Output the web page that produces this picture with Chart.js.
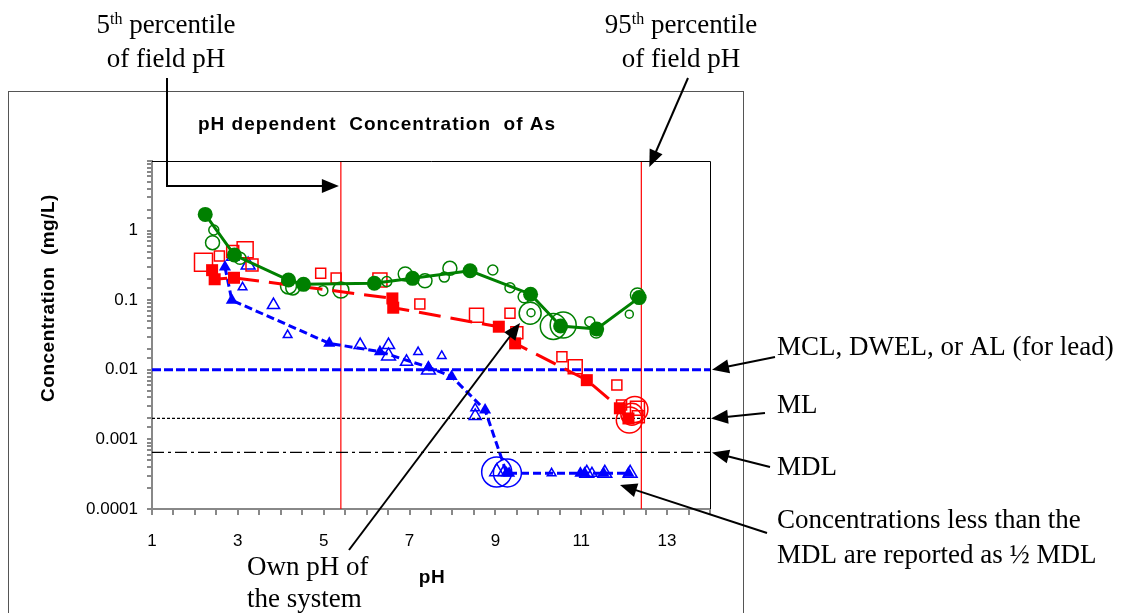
<!DOCTYPE html>
<html>
<head>
<meta charset="utf-8">
<script src="https://cdn.jsdelivr.net/npm/chart.js@4/dist/chart.umd.min.js"></script>
<style>
  html, body { margin: 0; padding: 0; background: #fff; }
</style>
</head>
<body>
<canvas id="myCanvas" width="1123" height="613"></canvas>
<script>
// filled green circles joined by the solid line
const greenPH   = [2.24, 2.92, 4.18, 4.53, 6.18, 7.07, 8.41, 9.82, 10.52, 11.36, 12.35];
const greenConc = [1.71, 0.446, 0.195, 0.169, 0.175, 0.206, 0.265, 0.122, 0.0425, 0.0385, 0.109];

// open green circles
const greenOpenPH   = [2.44, 2.41, 3.05, 4.18, 4.28, 4.98, 5.40, 6.47, 6.90, 7.36, 7.81, 7.94, 8.94, 9.34, 9.67, 9.81, 9.83, 10.35, 10.58, 11.20, 11.35, 12.12, 12.31];
const greenOpenConc = [1.02, 0.67, 0.40, 0.160, 0.150, 0.137, 0.140, 0.185, 0.238, 0.190, 0.215, 0.287, 0.272, 0.151, 0.112, 0.065, 0.066, 0.042, 0.044, 0.049, 0.035, 0.063, 0.119];
const greenOpenSize = [5, 7, 6, 8, 7, 5, 8, 5, 7, 7, 5, 7, 5, 5, 6, 11, 4, 13, 13, 5, 6, 4, 7];

// filled red squares joined by the long dashed line
const redPH   = [2.40, 2.46, 2.91, 6.60, 6.62, 9.08, 9.46, 11.13, 11.90, 12.10];
const redConc = [0.27, 0.20, 0.21, 0.106, 0.078, 0.0416, 0.024, 0.0071, 0.0028, 0.0020];

// open red squares (half side in px)
const redOpenPH   = [2.20, 2.57, 2.88, 3.17, 3.33, 4.93, 5.29, 6.31, 7.24, 8.56, 9.34, 9.50, 10.55, 10.86, 11.83, 11.94, 12.31, 12.33];
const redOpenConc = [0.35, 0.43, 0.50, 0.53, 0.32, 0.243, 0.208, 0.195, 0.088, 0.061, 0.065, 0.034, 0.0154, 0.0111, 0.00605, 0.00312, 0.0028, 0.00212];
const redOpenSize = [9, 5, 6, 8, 6, 5, 5, 7, 5, 7, 5, 6, 5, 7, 5, 5, 7, 6];

// big red rings
const redRingPH   = [12.12, 12.18, 12.25];
const redRingConc = [0.0019, 0.0023, 0.0027];
const redRingSize = [13, 11, 13];

// filled blue triangles joined by the short dashed line
const bluePH   = [2.70, 2.86, 5.13, 6.31, 7.44, 7.98, 8.76, 9.26, 9.32, 10.98, 11.08, 11.52, 12.10];
const blueConc = [0.30, 0.10, 0.024, 0.0182, 0.0109, 0.0080, 0.00264, 0.00033, 0.000325, 0.000325, 0.000325, 0.000325, 0.000325];

// open blue triangles
const blueOpenPH   = [2.88, 3.24, 3.11, 3.83, 4.16, 5.85, 6.51, 6.51, 6.93, 7.20, 7.44, 7.75, 8.53, 8.53, 9.03, 9.20, 10.31, 11.13, 11.25, 11.55, 12.14];
const blueOpenConc = [0.42, 0.32, 0.153, 0.085, 0.0316, 0.0227, 0.0227, 0.0158, 0.013, 0.018, 0.0099, 0.0158, 0.0028, 0.00217, 0.000344, 0.00034, 0.000325, 0.000325, 0.000325, 0.000325, 0.000325];
const blueOpenSize = [7, 8, 5, 7, 5, 7, 7, 8, 7, 5, 8, 5, 5, 7, 8, 7, 5, 8, 6, 8, 8];

// big blue rings
const blueRingPH   = [9.03, 9.28];
const blueRingConc = [0.00034, 0.00033];
const blueRingSize = [15, 14];

// reference levels
const fieldPH = [5.4, 12.4];     // 5th and 95th percentile
const mclLevel = 0.01;
const mlLevel = 0.002;
const mdlLevel = 0.00065;

const xTickLabels = [1, 3, 5, 7, 9, 11, 13];
const yTickLabels = { "0.0001": "0.0001", "0.001": "0.001", "0.01": "0.01", "0.1": "0.1", "1": "1" };

const X_MIN = 1, X_MAX = 14, Y_MIN = 0.0001, Y_MAX = 10;

const pts = (xs, ys) => xs.map((x, i) => ({ x: x, y: ys[i] }));
const hLine = (v) => [{ x: X_MIN, y: v }, { x: X_MAX, y: v }];
const vLine = (v) => [{ x: v, y: Y_MIN }, { x: v, y: Y_MAX }];

const GREEN = "#008000", RED = "#ff0000", BLUE = "#0000ff";
const SANS = "'Liberation Sans', Arial, sans-serif";
const SERIF = "'Liberation Serif', 'Times New Roman', serif";

function arrow(ctx, path) {
  const n = path.length;
  const [x1, y1] = path[n - 2], [x2, y2] = path[n - 1];
  const a = Math.atan2(y2 - y1, x2 - x1), L = 17, W = 7;
  ctx.beginPath();
  ctx.moveTo(path[0][0], path[0][1]);
  for (let i = 1; i < n - 1; i++) ctx.lineTo(path[i][0], path[i][1]);
  ctx.lineTo(x2 - (L - 2) * Math.cos(a), y2 - (L - 2) * Math.sin(a));
  ctx.stroke();
  ctx.beginPath();
  ctx.moveTo(x2, y2);
  ctx.lineTo(x2 - L * Math.cos(a) + W * Math.sin(a), y2 - L * Math.sin(a) - W * Math.cos(a));
  ctx.lineTo(x2 - L * Math.cos(a) - W * Math.sin(a), y2 - L * Math.sin(a) + W * Math.cos(a));
  ctx.closePath();
  ctx.fill();
}

// "5th percentile" style line, centred on cx
function ordinalLine(ctx, big, sup, rest, cx, base) {
  ctx.font = "27px " + SERIF;
  const w1 = ctx.measureText(big).width;
  const w3 = ctx.measureText(rest).width;
  ctx.font = "16px " + SERIF;
  const w2 = ctx.measureText(sup).width;
  let x = cx - (w1 + w2 + w3) / 2;
  ctx.textAlign = "left";
  ctx.textBaseline = "alphabetic";
  ctx.font = "27px " + SERIF;
  ctx.fillText(big, x, base);
  ctx.font = "16px " + SERIF;
  ctx.fillText(sup, x + w1, base - 9);
  ctx.font = "27px " + SERIF;
  ctx.fillText(rest, x + w1 + w2, base);
}

const decorations = {
  id: "decorations",
  afterDraw(chart) {
    const ctx = chart.ctx;
    const a = chart.chartArea;
    const xs = chart.scales.x, ys = chart.scales.y;
    ctx.save();

    // outer frame
    ctx.strokeStyle = "#555";
    ctx.lineWidth = 1;
    ctx.strokeRect(8.5, 91.5, 735, 560);

    // plot box top / right
    ctx.strokeStyle = "#000";
    ctx.beginPath();
    ctx.moveTo(a.left, a.top + 0.5);
    ctx.lineTo(a.right + 0.5, a.top + 0.5);
    ctx.lineTo(a.right + 0.5, a.bottom);
    ctx.stroke();

    ctx.fillStyle = "#000";
    // title
    ctx.font = "bold 19px " + SANS;
    ctx.letterSpacing = "1px";
    ctx.textAlign = "left";
    ctx.textBaseline = "alphabetic";
    ctx.fillText("pH dependent  Concentration  of As", 198, 130);

    // axis titles
    ctx.letterSpacing = "0.5px";
    ctx.textAlign = "center";
    ctx.textBaseline = "middle";
    ctx.fillText("pH", 432, 578);
    ctx.save();
    ctx.translate(49, 298);
    ctx.rotate(-Math.PI / 2);
    ctx.fillText("Concentration  (mg/L)", 0, 0);
    ctx.restore();
    ctx.letterSpacing = "0px";

    // serif annotations
    ordinalLine(ctx, "5", "th", " percentile", 166, 33);
    ordinalLine(ctx, "95", "th", " percentile", 681, 33);
    ctx.font = "27px " + SERIF;
    ctx.textAlign = "center";
    ctx.textBaseline = "alphabetic";
    ctx.fillText("of field pH", 166, 67);
    ctx.fillText("of field pH", 681, 67);
    ctx.textAlign = "left";
    ctx.fillText("MCL, DWEL, or AL (for lead)", 777, 355);
    ctx.fillText("ML", 777, 413);
    ctx.fillText("MDL", 777, 475);
    ctx.fillText("Concentrations less than the", 777, 528);
    ctx.fillText("MDL are reported as \u00bd MDL", 777, 563);
    ctx.fillText("Own pH of", 247, 575);
    ctx.fillText("the system", 247, 607);

    // arrows
    ctx.strokeStyle = "#000";
    ctx.lineWidth = 2;
    const p5 = xs.getPixelForValue(fieldPH[0]);
    const p95 = xs.getPixelForValue(fieldPH[1]);
    arrow(ctx, [[167, 78], [167, 186], [p5 - 2, 186]]);
    arrow(ctx, [[688, 78], [p95 + 8, a.top + 6]]);
    arrow(ctx, [[775, 357], [a.right + 2, ys.getPixelForValue(mclLevel)]]);
    arrow(ctx, [[765, 413], [a.right + 1, ys.getPixelForValue(mlLevel)]]);
    arrow(ctx, [[770, 467], [a.right + 2, ys.getPixelForValue(mdlLevel)]]);
    arrow(ctx, [[767, 533], [620, 485]]);
    arrow(ctx, [[349, 550], [520, 323]]);
    ctx.restore();
  }
};

const ctx = document.getElementById("myCanvas").getContext("2d");
new Chart(ctx, {
  type: "scatter",
  data: {
    datasets: [
      {
        data: pts(greenPH, greenConc), showLine: true,
        borderColor: GREEN, borderWidth: 3, backgroundColor: GREEN,
        pointStyle: "circle", pointRadius: 7.5, pointBorderWidth: 0
      },
      {
        data: pts(redPH, redConc), showLine: true,
        borderColor: RED, borderWidth: 3, borderDash: [22, 10], backgroundColor: RED,
        pointStyle: "rect", pointRadius: 8.5, pointBorderWidth: 0
      },
      {
        data: pts(bluePH, blueConc), showLine: true,
        borderColor: BLUE, borderWidth: 3, borderDash: [8, 4], backgroundColor: BLUE,
        pointStyle: "triangle", pointRadius: 7, pointBorderWidth: 0
      },
      {
        data: pts(greenOpenPH, greenOpenConc), showLine: false,
        borderColor: GREEN, backgroundColor: "rgba(0,0,0,0)",
        pointStyle: "circle", pointRadius: greenOpenSize, pointBorderWidth: 1.5
      },
      {
        data: pts(redOpenPH, redOpenConc), showLine: false,
        borderColor: RED, backgroundColor: "rgba(0,0,0,0)",
        pointStyle: "rect", pointRadius: redOpenSize.map(s => s / Math.SQRT1_2), pointBorderWidth: 1.5
      },
      {
        data: pts(redRingPH, redRingConc), showLine: false,
        borderColor: RED, backgroundColor: "rgba(0,0,0,0)",
        pointStyle: "circle", pointRadius: redRingSize, pointBorderWidth: 1.5
      },
      {
        data: pts(blueOpenPH, blueOpenConc), showLine: false,
        borderColor: BLUE, backgroundColor: "rgba(0,0,0,0)",
        pointStyle: "triangle", pointRadius: blueOpenSize, pointBorderWidth: 1.5
      },
      {
        data: pts(blueRingPH, blueRingConc), showLine: false,
        borderColor: BLUE, backgroundColor: "rgba(0,0,0,0)",
        pointStyle: "circle", pointRadius: blueRingSize, pointBorderWidth: 1.5
      },
      {
        data: hLine(mclLevel), showLine: true, pointRadius: 0,
        borderColor: BLUE, borderWidth: 3, borderDash: [9, 3]
      },
      {
        data: hLine(mlLevel), showLine: true, pointRadius: 0,
        borderColor: "#000", borderWidth: 1.2, borderDash: [3, 2]
      },
      {
        data: hLine(mdlLevel), showLine: true, pointRadius: 0,
        borderColor: "#000", borderWidth: 1.2, borderDash: [12, 4, 3, 4]
      },
      {
        data: vLine(fieldPH[0]), showLine: true, pointRadius: 0,
        borderColor: RED, borderWidth: 1.2
      },
      {
        data: vLine(fieldPH[1]), showLine: true, pointRadius: 0,
        borderColor: RED, borderWidth: 1.2
      }
    ]
  },
  options: {
    responsive: false,
    animation: false,
    devicePixelRatio: 1,
    layout: { padding: { left: 72, right: 413, top: 161, bottom: 64 } },
    plugins: { legend: { display: false }, tooltip: { enabled: false }, title: { display: false } },
    scales: {
      x: {
        type: "linear", min: X_MIN, max: X_MAX,
        afterFit: (s) => { s.height = 40; },
        ticks: {
          stepSize: 0.5, autoSkip: false, maxRotation: 0, padding: 16,
          color: "#000", font: { family: SANS, size: 17 },
          callback: (v) => (xTickLabels.includes(v) ? String(v) : "")
        },
        grid: { drawOnChartArea: false, tickLength: 6, color: "#888", lineWidth: 2 },
        border: { color: "#888", width: 2 }
      },
      y: {
        type: "logarithmic", min: Y_MIN, max: Y_MAX,
        afterFit: (s) => { s.width = 80; },
        ticks: {
          autoSkip: false, padding: 9,
          color: "#000", font: { family: SANS, size: 17 },
          callback: (v) => {
            const key = String(Number(v.toPrecision(6)));
            return yTickLabels[key] !== undefined ? yTickLabels[key] : "";
          }
        },
        grid: { drawOnChartArea: false, tickLength: 5, color: "#888", lineWidth: 2 },
        border: { color: "#888", width: 2 }
      }
    }
  },
  plugins: [decorations]
});
</script>
</body>
</html>
